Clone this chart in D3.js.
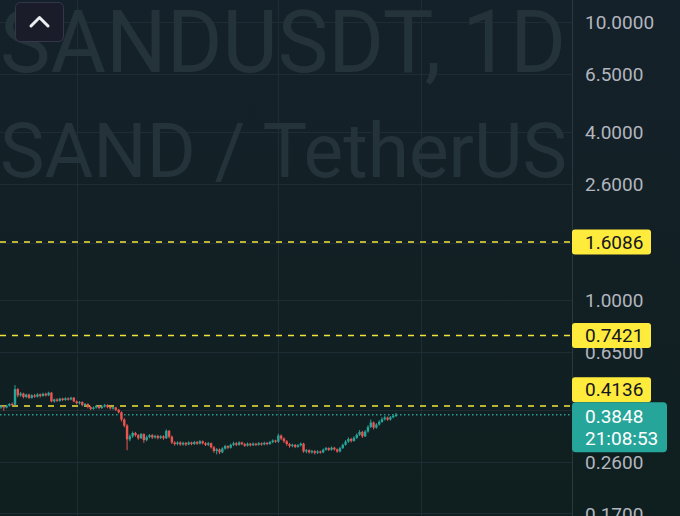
<!DOCTYPE html>
<html><head><meta charset="utf-8">
<script src="https://cdn.jsdelivr.net/npm/d3@7"></script>
<style>html,body{margin:0;padding:0;background:#13202a;overflow:hidden}</style>
</head><body><svg id="c" width="680" height="516"></svg>
<script>
const opens=[0.410,0.413,0.409,0.415,0.421,0.418,0.476,0.452,0.459,0.446,
0.455,0.443,0.452,0.447,0.456,0.450,0.458,0.452,0.462,0.430,
0.437,0.432,0.440,0.435,0.441,0.437,0.443,0.430,0.424,0.428,
0.417,0.421,0.410,0.404,0.409,0.414,0.407,0.412,0.417,0.410,
0.406,0.409,0.401,0.393,0.370,0.352,0.314,0.322,0.331,0.325,
0.317,0.328,0.312,0.320,0.325,0.319,0.323,0.318,0.322,0.317,
0.337,0.321,0.306,0.302,0.306,0.301,0.305,0.301,0.306,0.302,
0.307,0.303,0.309,0.304,0.300,0.304,0.294,0.285,0.289,0.282,
0.291,0.297,0.293,0.300,0.304,0.300,0.306,0.302,0.298,0.303,
0.299,0.303,0.300,0.304,0.301,0.305,0.302,0.307,0.311,0.308,
0.324,0.316,0.309,0.302,0.297,0.300,0.295,0.299,0.303,0.284,
0.287,0.282,0.285,0.281,0.284,0.282,0.288,0.292,0.288,0.293,
0.289,0.284,0.292,0.300,0.308,0.315,0.310,0.318,0.326,0.334,
0.322,0.335,0.348,0.361,0.346,0.355,0.363,0.371,0.376,0.370,
0.377,0.381];
const closes=[0.413,0.409,0.415,0.421,0.418,0.476,0.452,0.459,0.446,0.455,
0.443,0.452,0.447,0.456,0.450,0.458,0.452,0.462,0.430,0.437,
0.432,0.440,0.435,0.441,0.437,0.443,0.430,0.424,0.428,0.417,
0.421,0.410,0.404,0.409,0.414,0.407,0.412,0.417,0.410,0.406,
0.409,0.401,0.393,0.370,0.352,0.314,0.322,0.331,0.325,0.317,
0.328,0.312,0.320,0.325,0.319,0.323,0.318,0.322,0.317,0.337,
0.321,0.306,0.302,0.306,0.301,0.305,0.301,0.306,0.302,0.307,
0.303,0.309,0.304,0.300,0.304,0.294,0.285,0.289,0.282,0.291,
0.297,0.293,0.300,0.304,0.300,0.306,0.302,0.298,0.303,0.299,
0.303,0.300,0.304,0.301,0.305,0.302,0.307,0.311,0.308,0.324,
0.316,0.309,0.302,0.297,0.300,0.295,0.299,0.303,0.284,0.287,
0.282,0.285,0.281,0.284,0.282,0.288,0.292,0.288,0.293,0.289,
0.284,0.292,0.300,0.308,0.315,0.310,0.318,0.326,0.334,0.322,
0.335,0.348,0.361,0.346,0.355,0.363,0.371,0.376,0.370,0.377,
0.381,0.3848];
const highs=[0.416,0.415,0.418,0.424,0.426,0.492,0.480,0.465,0.462,0.458,
0.458,0.456,0.457,0.460,0.459,0.462,0.462,0.466,0.465,0.440,
0.441,0.443,0.443,0.445,0.444,0.447,0.446,0.433,0.431,0.430,
0.424,0.423,0.414,0.412,0.418,0.417,0.416,0.421,0.420,0.413,
0.412,0.411,0.404,0.396,0.374,0.356,0.327,0.335,0.334,0.328,
0.331,0.330,0.324,0.328,0.328,0.326,0.326,0.325,0.325,0.341,
0.339,0.324,0.309,0.309,0.309,0.308,0.307,0.309,0.308,0.310,
0.310,0.312,0.311,0.307,0.307,0.306,0.297,0.292,0.291,0.294,
0.300,0.299,0.303,0.308,0.307,0.309,0.308,0.305,0.306,0.305,
0.306,0.305,0.307,0.306,0.308,0.307,0.310,0.314,0.313,0.329,
0.327,0.319,0.312,0.305,0.303,0.302,0.302,0.306,0.305,0.290,
0.289,0.288,0.287,0.287,0.286,0.291,0.295,0.294,0.296,0.295,
0.291,0.295,0.303,0.312,0.319,0.318,0.322,0.330,0.339,0.337,
0.339,0.353,0.370,0.364,0.359,0.368,0.377,0.381,0.379,0.381,
0.386,0.391];
const lows=[0.404,0.398,0.406,0.412,0.414,0.415,0.445,0.447,0.441,0.442,
0.439,0.440,0.443,0.444,0.444,0.447,0.448,0.449,0.427,0.426,
0.428,0.429,0.431,0.432,0.433,0.434,0.427,0.420,0.419,0.413,
0.412,0.406,0.400,0.401,0.405,0.403,0.404,0.409,0.406,0.402,
0.402,0.397,0.389,0.364,0.347,0.287,0.309,0.318,0.321,0.313,
0.315,0.305,0.309,0.317,0.315,0.316,0.314,0.315,0.313,0.315,
0.317,0.302,0.298,0.299,0.298,0.298,0.297,0.299,0.299,0.300,
0.300,0.301,0.301,0.297,0.297,0.291,0.281,0.277,0.278,0.280,
0.288,0.290,0.291,0.297,0.297,0.298,0.299,0.295,0.296,0.296,
0.297,0.297,0.298,0.298,0.299,0.299,0.300,0.304,0.305,0.305,
0.312,0.305,0.298,0.293,0.294,0.292,0.293,0.296,0.281,0.280,
0.279,0.279,0.277,0.278,0.279,0.280,0.286,0.285,0.286,0.286,
0.281,0.282,0.290,0.298,0.305,0.306,0.308,0.315,0.323,0.318,
0.320,0.332,0.345,0.341,0.343,0.352,0.360,0.367,0.366,0.367,
0.374,0.378];
const gridTicks=[10,6.5,4,2.6,1.6,1.0,0.65,0.4,0.26,0.17];
const priceTicks=[10,6.5,4,2.6,1.0,0.65,0.26,0.17];
const levels=[1.6086,0.7421,0.4136];
const lastPrice=0.3848;
const countdown="21:08:53";
const timeGridIdx=[27,99,150];
const watermark=["SANDUSDT, 1D","SAND / TetherUS"];

const W=680,H=516,axisX=572;
const svg=d3.select("#c");
const defs=svg.append("defs");
const g0=defs.append("linearGradient").attr("id","bg").attr("x1",0).attr("y1",0).attr("x2",0).attr("y2",1);
g0.append("stop").attr("offset","0%").attr("stop-color","#15212a");
g0.append("stop").attr("offset","100%").attr("stop-color","#0f1f1f");
svg.append("rect").attr("width",W).attr("height",H).attr("fill","url(#bg)");

const x=d3.scaleLinear().domain([0,closes.length-1]).range([1,396]);
const y=d3.scaleLog().domain([0.1,10]).range([577.5,21.5]);

// grid
const grid=svg.append("g").attr("stroke","#1e2d33").attr("stroke-width",1);
grid.selectAll("line.h").data(gridTicks).join("line").attr("class","h")
  .attr("x1",0).attr("x2",axisX).attr("y1",d=>Math.round(y(d))+0.5).attr("y2",d=>Math.round(y(d))+0.5);
grid.selectAll("line.v").data(timeGridIdx).join("line").attr("class","v")
  .attr("y1",0).attr("y2",H).attr("x1",d=>Math.round(x(d))+0.5).attr("x2",d=>Math.round(x(d))+0.5);

// watermark
const wm=svg.append("g").attr("fill","#243339").attr("font-family","Roboto, sans-serif");
wm.append("text").attr("x",0).attr("y",72).attr("font-size",87).attr("textLength",566).attr("lengthAdjust","spacingAndGlyphs").text(watermark[0]);
wm.append("text").attr("x",0).attr("y",177).attr("font-size",76).attr("textLength",567).attr("lengthAdjust","spacingAndGlyphs").text(watermark[1]);

// level lines
svg.append("g").selectAll("line").data(levels).join("line")
  .attr("x1",0).attr("x2",axisX).attr("y1",d=>y(d)).attr("y2",d=>y(d))
  .attr("stroke","#f2e33c").attr("stroke-width",1.5).attr("stroke-dasharray","6,6");
svg.append("line").attr("x1",0).attr("x2",axisX).attr("y1",y(lastPrice)).attr("y2",y(lastPrice))
  .attr("stroke","#2a9d96").attr("stroke-width",1.5).attr("stroke-dasharray","1.5,2.5");

// candles
const up="#26a69a",dn="#ef5350";
const cg=svg.append("g");
const idx=d3.range(closes.length);
cg.selectAll("line").data(idx).join("line")
  .attr("x1",i=>x(i)).attr("x2",i=>x(i)).attr("y1",i=>y(highs[i])).attr("y2",i=>y(lows[i]))
  .attr("stroke",i=>closes[i]>=opens[i]?up:dn).attr("stroke-width",1);
cg.selectAll("rect").data(idx).join("rect")
  .attr("x",i=>x(i)-1.2).attr("width",2.4)
  .attr("y",i=>y(Math.max(opens[i],closes[i])))
  .attr("height",i=>Math.max(1.2,Math.abs(y(opens[i])-y(closes[i]))))
  .attr("fill",i=>closes[i]>=opens[i]?up:dn);

// axis
svg.append("line").attr("x1",axisX+0.5).attr("x2",axisX+0.5).attr("y1",0).attr("y2",H).attr("stroke","#2a393f");
const ax=svg.append("g").attr("transform",`translate(${axisX},0)`)
  .call(d3.axisRight(y).tickValues(priceTicks).tickFormat(d3.format(".4f")).tickSize(0).tickPadding(13));
ax.select(".domain").remove();
ax.selectAll("text").attr("font-family","Roboto, sans-serif").attr("font-size",19).attr("fill","#b2b5be").attr("dy","0.35em");

// labels
const bh=25;
const lastY=y(lastPrice);
const tealTop=lastY-12.5;
const lab=svg.append("g").attr("font-family","Roboto, sans-serif").attr("font-size",19);
levels.forEach(v=>{
  let cy=y(v);
  if(cy+bh/2>tealTop && cy-bh/2<tealTop+50) cy=tealTop-bh/2;
  lab.append("rect").attr("x",axisX).attr("y",cy-bh/2).attr("width",79).attr("height",bh).attr("rx",3).attr("fill","#ffeb3b");
  lab.append("text").attr("x",axisX+13).attr("y",cy).attr("dy","0.35em").attr("fill","#131722").text(d3.format(".4f")(v));
});
lab.append("rect").attr("x",axisX).attr("y",tealTop).attr("width",95).attr("height",50).attr("rx",4).attr("fill","#26a69a");
lab.append("text").attr("x",axisX+13).attr("y",lastY+2).attr("dy","0.35em").attr("fill","#ffffff").text(d3.format(".4f")(lastPrice));
lab.append("text").attr("x",axisX+13).attr("y",lastY+23.5).attr("dy","0.35em").attr("fill","#ffffff").text(countdown);

// collapse button
svg.append("rect").attr("x",15.5).attr("y",2.5).attr("width",48).attr("height",39).attr("rx",5)
  .attr("fill","#1a1c2a").attr("stroke","#34374a").attr("stroke-width",1);
svg.append("polyline").attr("points","31,26 39.5,17.5 48,26").attr("fill","none")
  .attr("stroke","#eceef2").attr("stroke-width",3).attr("stroke-linecap","round").attr("stroke-linejoin","round");
</script></body></html>
